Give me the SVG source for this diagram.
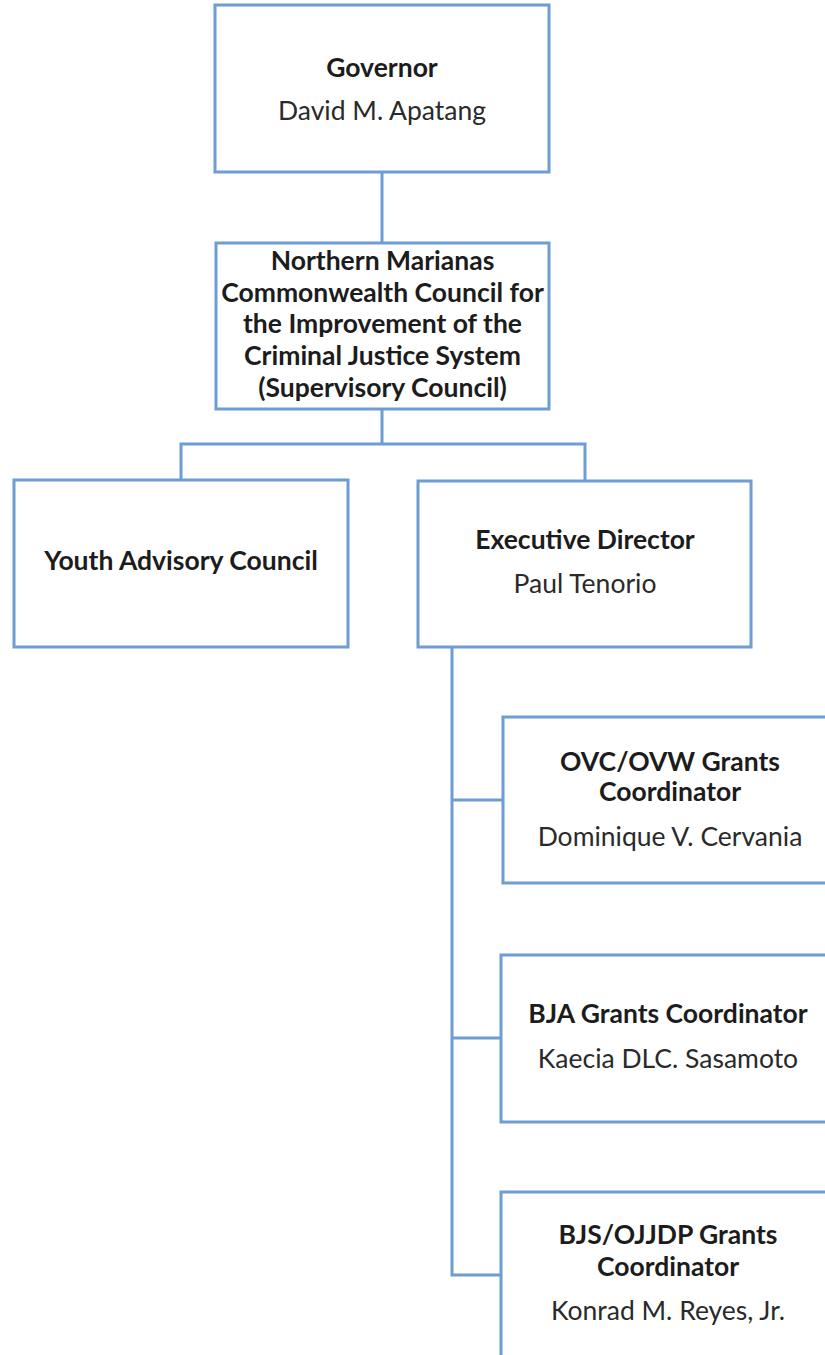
<svg xmlns="http://www.w3.org/2000/svg" width="825" height="1355" viewBox="0 0 825 1355">
<style>
.box{fill:#ffffff;stroke:#6d9dd2;stroke-width:3}
.conn{fill:none;stroke:#6d9dd2;stroke-width:3}
.t{font-family:Lato,"Open Sans","Liberation Sans",sans-serif;font-size:26.5px;fill:#1c1c1c;text-anchor:middle}
.b{font-weight:bold}
.r{fill:#2a2a2a}
</style>
<rect width="825" height="1355" fill="#ffffff"/>
<g id="connectors">
<path class="conn" d="M382 172V243"/>
<path class="conn" d="M382 409V444M181 480V444H585V481"/>
<path class="conn" d="M452 647V1275H501M452 800H503M452 1038H501"/>
</g>
<g id="governor">
<rect class="box" x="215" y="5" width="334" height="167"/>
<text class="t b" x="382" y="77">Governor</text>
<text class="t r" x="382" y="120">David M. Apatang</text>
</g>
<g id="council">
<rect class="box" x="216" y="243" width="333" height="166"/>
<text class="t b" x="382.5" y="270">Northern Marianas</text>
<text class="t b" x="382.5" y="302">Commonwealth Council for</text>
<text class="t b" x="382.5" y="333">the Improvement of the</text>
<text class="t b" x="382.5" y="365">Criminal Justice System</text>
<text class="t b" x="382.5" y="397">(Supervisory Council)</text>
</g>
<g id="youth">
<rect class="box" x="14" y="480" width="334" height="167"/>
<text class="t b" x="181" y="570">Youth Advisory Council</text>
</g>
<g id="executive">
<rect class="box" x="418" y="481" width="333" height="166"/>
<text class="t b" x="585" y="549">Executive Director</text>
<text class="t r" x="585" y="593">Paul Tenorio</text>
</g>
<g id="ovc">
<rect class="box" x="503" y="717" width="334" height="166"/>
<text class="t b" x="670" y="771">OVC/OVW Grants</text>
<text class="t b" x="670" y="801">Coordinator</text>
<text class="t r" x="670" y="846">Dominique V. Cervania</text>
</g>
<g id="bja">
<rect class="box" x="501" y="955" width="334" height="167"/>
<text class="t b" x="668" y="1023">BJA Grants Coordinator</text>
<text class="t r" x="668" y="1068">Kaecia DLC. Sasamoto</text>
</g>
<g id="bjs">
<rect class="box" x="501" y="1192" width="334" height="180"/>
<text class="t b" x="668" y="1244">BJS/OJJDP Grants</text>
<text class="t b" x="668" y="1276">Coordinator</text>
<text class="t r" x="668" y="1320">Konrad M. Reyes, Jr.</text>
</g>
</svg>
